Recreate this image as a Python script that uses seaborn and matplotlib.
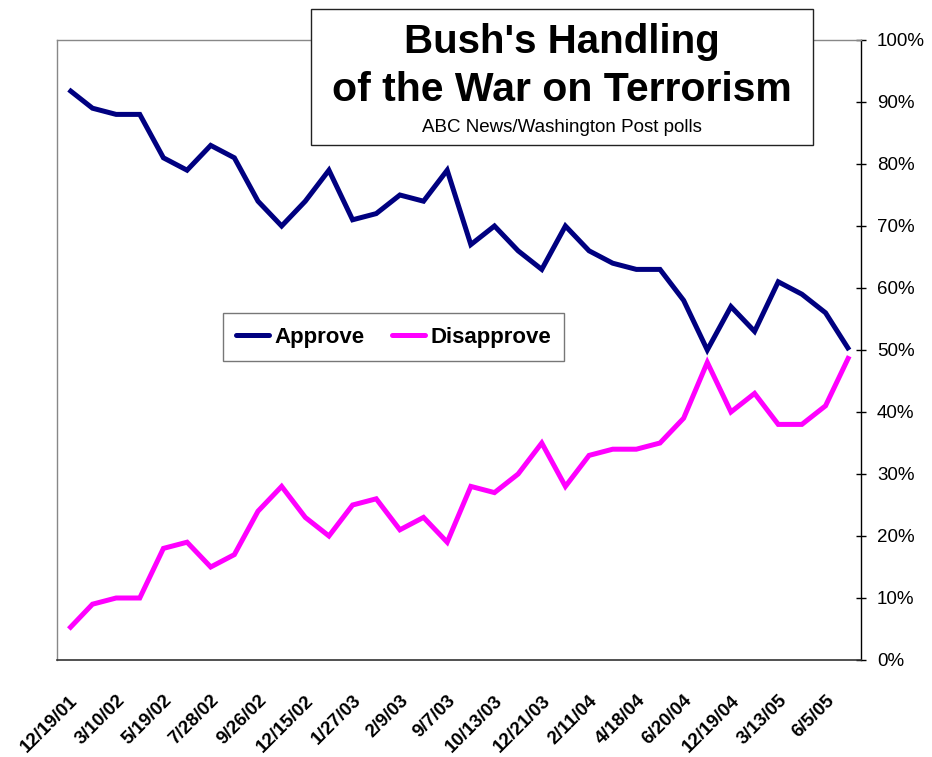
import numpy as np
import pandas as pd
import matplotlib.pyplot as plt
import seaborn as sns
from matplotlib.lines import Line2D

# poll results (percent), one value per survey
approve = [92, 89, 88, 88, 81, 79, 83, 81, 74, 70, 74, 79, 71, 72, 75, 74, 79,
           67, 70, 66, 63, 70, 66, 64, 63, 63, 58, 50, 57, 53, 61, 59, 56, 50]
disapprove = [5, 9, 10, 10, 18, 19, 15, 17, 24, 28, 23, 20, 25, 26, 21, 23, 19,
              28, 27, 30, 35, 28, 33, 34, 34, 35, 39, 48, 40, 43, 38, 38, 41, 49]
# only every other survey date is labelled on the axis
date_labels = ['12/19/01', '3/10/02', '5/19/02', '7/28/02', '9/26/02', '12/15/02',
               '1/27/03', '2/9/03', '9/7/03', '10/13/03', '12/21/03', '2/11/04',
               '4/18/04', '6/20/04', '12/19/04', '3/13/05', '6/5/05']

df = pd.DataFrame({'poll': np.arange(len(approve)), 'Approve': approve, 'Disapprove': disapprove})
df_long = df.melt(id_vars='poll', var_name='resp', value_name='pct')

sns.set_style('white')
plt.rcParams['font.family'] = ['Liberation Sans', 'DejaVu Sans']
plt.rcParams['text.color'] = 'black'
plt.rcParams['xtick.color'] = 'black'
plt.rcParams['ytick.color'] = 'black'

fig = plt.figure(figsize=(9.32, 7.57), dpi=100)
ax = fig.add_axes([57/932, 97/757, 804/932, 620/757])

sns.lineplot(data=df_long, x='poll', y='pct', hue='resp', ax=ax,
             palette={'Approve': '#000080', 'Disapprove': '#FF00FF'},
             linewidth=3.6, legend=False)
for l in ax.lines:
    l.set_solid_joinstyle('miter')
    l.set_solid_capstyle('butt')

n = len(approve)
ax.set_xlim(-0.5, n - 0.5)
ax.set_ylim(0, 100)

# y axis on the right
ax.yaxis.tick_right()
ax.set_yticks(np.arange(0, 101, 10))
ax.set_yticklabels([f'{v}%' for v in range(0, 101, 10)], fontsize=13.5, color='black')
ax.tick_params(axis='y', which='major', direction='inout', length=7, width=1, color='black', pad=8, right=True, left=False)

# x ticks between categories, labels on every other poll
ax.set_xticks(np.arange(n + 1) - 0.5, minor=True)
ax.set_xticks(np.arange(0, n, 2))
ax.set_xticklabels(date_labels, rotation=45, ha='right', rotation_mode='anchor',
                   fontsize=13.5, fontweight='bold', color='black')
ax.tick_params(axis='x', which='major', length=0, pad=23)
ax.tick_params(axis='x', which='minor', direction='out', length=5, width=1, color='#444444')
ax.set_xlabel('')
ax.set_ylabel('')

for side in ['top', 'left']:
    ax.spines[side].set_color('#888888')
    ax.spines[side].set_linewidth(1)
ax.spines['right'].set_color('black')
ax.spines['bottom'].set_color('#333333')
ax.spines['right'].set_linewidth(1)
ax.spines['bottom'].set_linewidth(1.2)

# title box
fig.patches.append(plt.Rectangle((311/932, 1 - 145/757), 502/932, 136/757,
                                 transform=fig.transFigure, facecolor='white',
                                 edgecolor='#222222', linewidth=1, zorder=5))
fig.text(562/932, 1 - 42/757, "Bush's Handling", ha='center', va='center',
         fontsize=29, fontweight='bold', zorder=6)
fig.text(562/932, 1 - 90/757, 'of the War on Terrorism', ha='center', va='center',
         fontsize=29.5, fontweight='bold', zorder=6)
fig.text(562/932, 1 - 127/757, 'ABC News/Washington Post polls', ha='center', va='center',
         fontsize=13.5, zorder=6)

# legend
handles = [Line2D([], [], color='#000080', lw=3.6), Line2D([], [], color='#FF00FF', lw=3.6)]
leg = fig.legend(handles, ['Approve', 'Disapprove'], loc='center',
                 bbox_to_anchor=(393.5/932, 1 - 337/757), ncol=2, frameon=True,
                 fancybox=False, handlelength=1.5, handletextpad=0.25, columnspacing=1.2,
                 prop={'weight': 'bold', 'size': 16}, borderpad=0.6)
leg.get_frame().set_edgecolor('#555555')
leg.get_frame().set_linewidth(1)

fig.savefig('out.png', dpi=100)
